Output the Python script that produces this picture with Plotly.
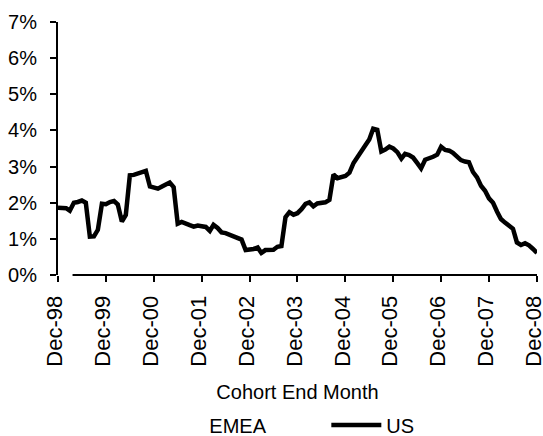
import pandas as pd
import plotly.graph_objects as go

# Monthly cohort end dates, Dec-98 .. Dec-08
months = pd.date_range("1998-12-01", periods=121, freq="MS")

# US default rate by cohort end month (%)
us_rate = [
    1.86, 1.86, 1.85, 1.78, 2.00, 2.02, 2.06, 2.00, 1.06, 1.07,
    1.25, 1.97, 1.96, 2.02, 2.05, 1.95, 1.48, 1.66, 2.76, 2.77,
    2.81, 2.83, 2.88, 2.45, 2.43, 2.39, 2.45, 2.52, 2.56, 2.43,
    1.42, 1.47, 1.44, 1.38, 1.34, 1.37, 1.35, 1.33, 1.22, 1.39,
    1.30, 1.18, 1.16, 1.12, 1.06, 1.04, 0.98, 0.69, 0.69, 0.72,
    0.76, 0.61, 0.69, 0.69, 0.70, 0.78, 0.80, 1.60, 1.74, 1.67,
    1.71, 1.82, 1.97, 2.01, 1.90, 1.98, 1.99, 2.01, 2.08, 2.78,
    2.68, 2.70, 2.74, 2.83, 3.10, 3.25, 3.40, 3.58, 3.75, 4.05,
    4.02, 3.42, 3.47, 3.55, 3.50, 3.40, 3.22, 3.35, 3.32, 3.25,
    3.10, 2.95, 3.19, 3.22, 3.27, 3.33, 3.55, 3.46, 3.44, 3.38,
    3.28, 3.18, 3.14, 3.12, 2.85, 2.70, 2.47, 2.33, 2.12, 2.00,
    1.75, 1.55, 1.45, 1.38, 1.28, 0.90, 0.83, 0.88, 0.82, 0.72,
    0.61,
]

# EMEA series (drawn in white)
emea_rate = [1.70, 0.00, 0.00, 0.00]

# Yearly ticks on the date axis
x_ticks = months[::12]
x_labels = [d.strftime("%b-%y") for d in x_ticks]

y_ticks = [0, 1, 2, 3, 4, 5, 6, 7]
y_labels = [f"{v}%" for v in y_ticks]

FONT = "Liberation Sans, Arial, sans-serif"

# a little slack past the last month so its tick is kept
x_end = months[-1] + pd.Timedelta(hours=6)

fig = go.Figure()
fig.add_trace(go.Scatter(
    x=months[:len(emea_rate)], y=emea_rate, name="EMEA", mode="lines",
    line=dict(color="white", width=4),
))
fig.add_trace(go.Scatter(
    x=months, y=us_rate, name="US", mode="lines",
    line=dict(color="black", width=4.5),
))

# bottom axis line (starts a little after the first month)
fig.add_shape(type="line", xref="x", yref="paper",
              x0="1999-03-22", x1=x_end, y0=0, y1=0,
              line=dict(color="black", width=2), layer="above")

fig.update_layout(
    width=543, height=436,
    margin=dict(l=58, r=6, t=22, b=161),
    paper_bgcolor="white", plot_bgcolor="white",
    font=dict(family=FONT, color="black"),
    showlegend=True,
    legend=dict(
        orientation="h", xref="container", yref="container",
        x=0.275, y=0.025, xanchor="left", yanchor="middle",
        font=dict(size=20, family=FONT), entrywidth=112, itemwidth=50,
        bgcolor="rgba(0,0,0,0)",
    ),
    xaxis=dict(
        range=[months[0], x_end], automargin=False,
        tickmode="array", tickvals=x_ticks, ticktext=x_labels,
        tickangle=-90,
        tickfont=dict(size=22, family=FONT),
        ticks="outside", ticklen=6, tickwidth=2, tickcolor="black",
        showline=False, showgrid=False, zeroline=False,
        ticklabelstandoff=5, ticklabelshift=-3, ticklabeloverflow="allow",
        title=dict(text="Cohort End Month", font=dict(size=20, family=FONT),
                   standoff=19),
    ),
    yaxis=dict(
        range=[0, 7], automargin=False, tickvals=y_ticks, ticktext=y_labels,
        tickfont=dict(size=20, family=FONT),
        ticks="outside", ticklen=6, tickwidth=2, tickcolor="black",
        showline=True, linecolor="black", linewidth=2,
        showgrid=False, zeroline=False, ticklabelstandoff=9,
    ),
)

fig.write_html("out.html")
